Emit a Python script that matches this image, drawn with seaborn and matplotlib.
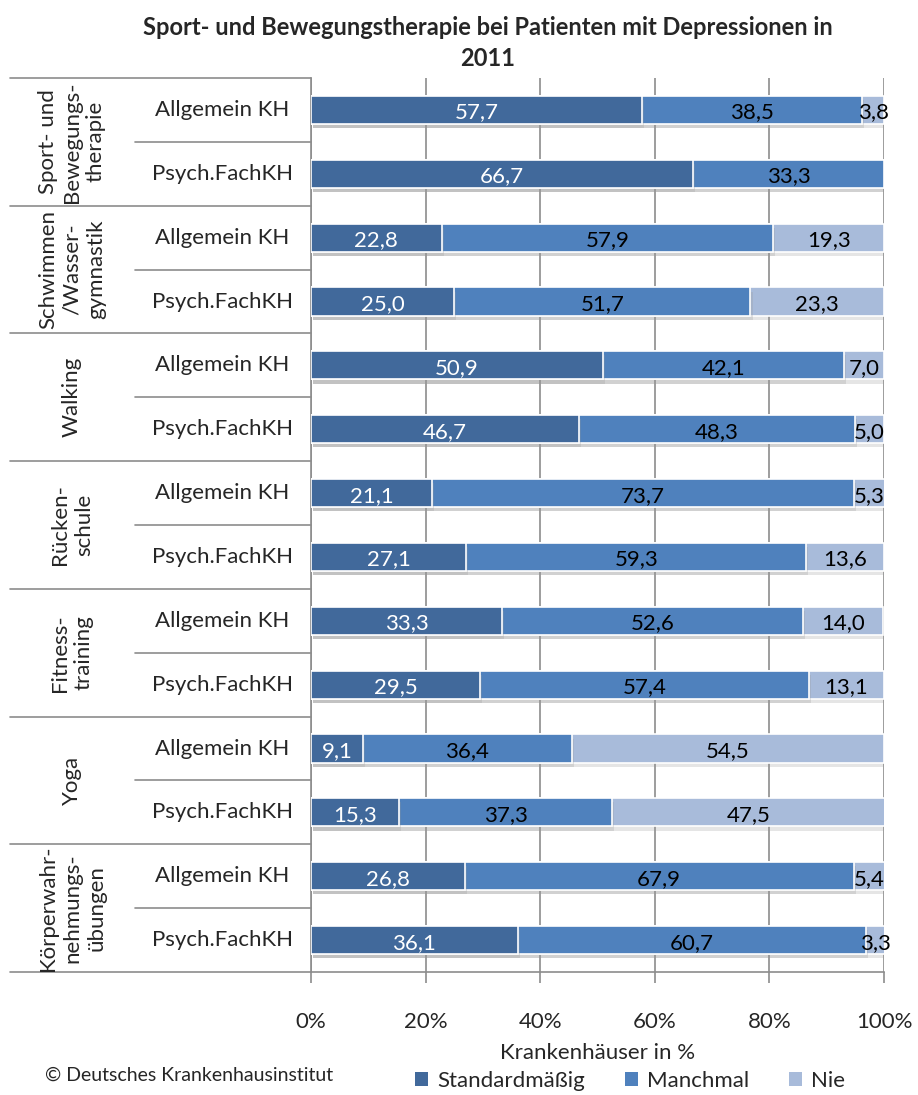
import matplotlib
matplotlib.use('Agg')
import matplotlib.pyplot as plt
import matplotlib.patheffects as pe
from matplotlib.patches import Patch
import numpy as np
import pandas as pd
import seaborn as sns

# data
groups = ['Sport- und\nBewegungs-\ntherapie', 'Schwimmen\n/Wasser-\ngymnastik', 'Walking',
          'Rücken-\nschule', 'Fitness-\ntraining', 'Yoga', 'Körperwahr-\nnehmungs-\nübungen']
kh_types = ['Allgemein KH', 'Psych.FachKH']
standard = [57.7, 66.7, 22.8, 25.0, 50.9, 46.7, 21.1, 27.1, 33.3, 29.5, 9.1, 15.3, 26.8, 36.1]
manchmal = [38.5, 33.3, 57.9, 51.7, 42.1, 48.3, 73.7, 59.3, 52.6, 57.4, 36.4, 37.3, 67.9, 60.7]
nie = [3.8, 0.0, 19.3, 23.3, 7.0, 5.0, 5.3, 13.6, 14.0, 13.1, 54.5, 47.5, 5.4, 3.3]
series = ['Standardmäßig', 'Manchmal', 'Nie']
colors = ['#41699B', '#4F81BD', '#A8BBDA']

sns.set_theme(style='white')
plt.rcParams['font.family'] = ['Lato', 'DejaVu Sans']

rows = [f'{g}|{k}' for g in groups for k in kh_types]
df = pd.DataFrame({'row': rows, 'Standardmäßig': standard, 'Manchmal': manchmal, 'Nie': nie})
df['c1'] = df['Standardmäßig']
df['c2'] = df['c1'] + df['Manchmal']
df['c3'] = df['c2'] + df['Nie']

fig = plt.figure(figsize=(9.18, 10.95), dpi=100)
ax = fig.add_axes([311 / 918, 1 - 972 / 1095, 573 / 918, 894 / 1095])

shadow = [pe.SimplePatchShadow(offset=(1.5, -3), shadow_rgbFace='#999999', alpha=0.25), pe.Normal()]
for col, c in zip(['c3', 'c2', 'c1'], colors[::-1]):
    sns.barplot(data=df, x=col, y='row', orient='h', color=c, width=0.44,
                edgecolor='white', linewidth=1.2, saturation=1, ax=ax, zorder=3)
for p in ax.patches:
    p.set_path_effects(shadow)

# value labels
for i, r in df.iterrows():
    segs = [(r['Standardmäßig'], 0, 'white'), (r['Manchmal'], r['c1'], 'black'), (r['Nie'], r['c2'], 'black')]
    for v, start, tc in segs:
        if v > 0:
            ax.text(start + v / 2, i + 0.04, f'{v:.1f}'.replace('.', ','), ha='center', va='center',
                    fontsize=16, color=tc, zorder=5, clip_on=False)

ax.set_xlim(0, 100)
ax.set_ylim(len(rows) - 0.5, -0.5)
ax.set_xticks(np.arange(0, 101, 20))
ax.set_xticklabels([f'{t}%' for t in range(0, 101, 20)], fontsize=16)
ax.set_yticks([])
ax.set_ylabel('')
ax.set_xlabel('Krankenhäuser in %', fontsize=16, labelpad=8)
ax.grid(axis='x', color='#8c8c8c', linewidth=1.2, zorder=0)
ax.tick_params(axis='x', bottom=True, length=8, width=1.2, color='#8c8c8c', pad=21)
for s in ['top', 'right']:
    ax.spines[s].set_visible(False)
for s in ['left', 'bottom']:
    ax.spines[s].set_color('#8c8c8c')
    ax.spines[s].set_linewidth(1.2)

# table at the left
trans = ax.get_yaxis_transform()
x_outer = (10 - 311) / 573
x_inner = (135 - 311) / 573
for gi, g in enumerate(groups):
    top = gi * 2 - 0.5
    ax.plot([x_outer, 0], [top, top], color='#8c8c8c', lw=1.2, transform=trans, clip_on=False)
    ax.plot([x_inner, 0], [top + 1, top + 1], color='#8c8c8c', lw=1.2, transform=trans, clip_on=False)
    ax.text((72 - 311) / 573, gi * 2 + 0.5, g, rotation=90, ha='center', va='center',
            fontsize=16, transform=trans, linespacing=1.25)
    for ki, k in enumerate(kh_types):
        ax.text((222 - 311) / 573, gi * 2 + ki, k, ha='center', va='center', fontsize=16,
                transform=trans)
ax.plot([x_outer, 0], [len(rows) - 0.5] * 2, color='#8c8c8c', lw=1.2, transform=trans, clip_on=False)

fig.text(488 / 918, 1 - 43 / 1095,
         'Sport- und Bewegungstherapie bei Patienten mit Depressionen in\n2011',
         ha='center', va='center', fontsize=17, fontweight='bold', linespacing=1.45)
fig.text(45 / 918, 1 - 1075 / 1095, '© Deutsches Krankenhausinstitut', ha='left', va='center', fontsize=14)

handles = [Patch(facecolor=c, edgecolor='none') for c in colors]
fig.legend(handles, series, loc='center', bbox_to_anchor=(630 / 918, 1 - 1081 / 1095), ncol=3,
           frameon=False, fontsize=16, handlelength=0.6, handleheight=0.6, handletextpad=0.4,
           columnspacing=1.8)

fig.savefig('out.png', dpi=100)
